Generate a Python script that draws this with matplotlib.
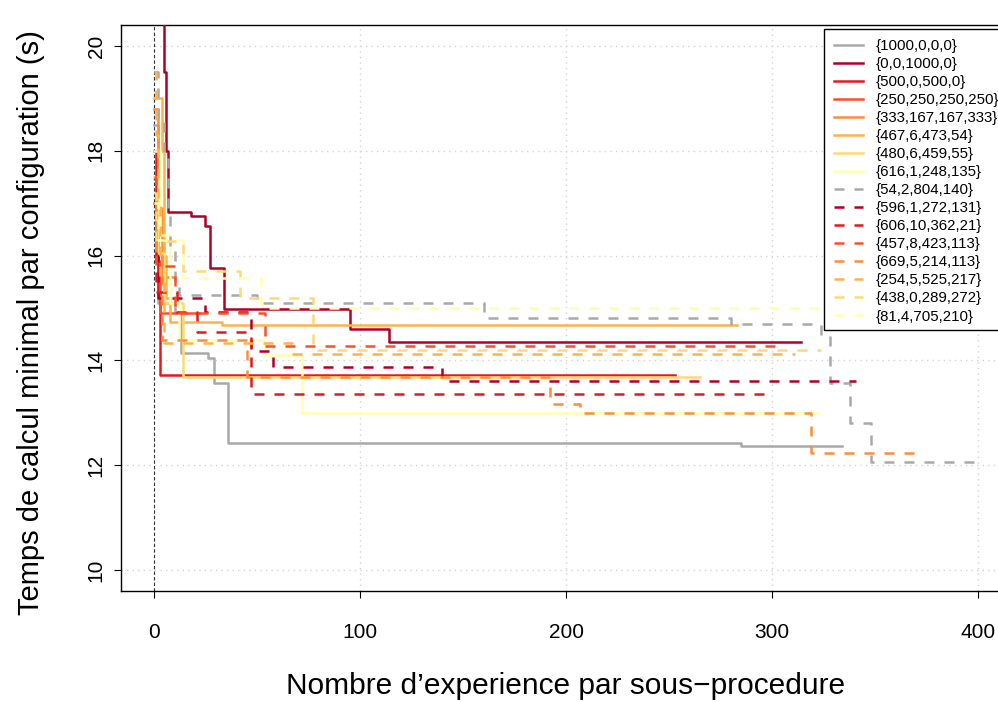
import numpy as np
import matplotlib
matplotlib.use("Agg")
import matplotlib.pyplot as plt
from matplotlib.patches import Rectangle

plt.rcParams['font.family'] = ['Liberation Sans', 'DejaVu Sans']

# series: step breakpoints (x = experiences, y = min time)
labels = ['{1000,0,0,0}', '{0,0,1000,0}', '{500,0,500,0}', '{250,250,250,250}',
          '{333,167,167,333}', '{467,6,473,54}', '{480,6,459,55}', '{616,1,248,135}',
          '{54,2,804,140}', '{596,1,272,131}', '{606,10,362,21}', '{457,8,423,113}',
          '{669,5,214,113}', '{254,5,525,217}', '{438,0,289,272}', '{81,4,705,210}']

x_s1 = [0, 2, 10, 13, 26, 29, 36, 285, 334]
y_s1 = [18.5, 15.1, 14.9, 14.14, 14.04, 13.57, 12.42, 12.37, 12.37]
x_s2 = [0, 4, 5, 6, 7, 18, 25, 27, 34, 95, 114, 314]
y_s2 = [30, 21, 19.5, 18, 16.84, 16.75, 16.56, 15.77, 14.98, 14.6, 14.36, 14.36]
x_s3 = [0, 1, 2, 3, 253]
y_s3 = [18.0, 16.5, 15.3, 13.72, 13.72]
x_s4 = [0, 1, 3, 22]
y_s4 = [17.0, 15.9, 14.9, 14.9]
x_s5 = [0, 2, 4, 9]
y_s5 = [18.8, 16.9, 15.6, 15.6]
x_s6 = [0, 4, 5, 6, 8, 33, 283]
y_s6 = [19.0, 18.0, 16.0, 15.2, 14.73, 14.67, 14.67]
x_s7 = [0, 2, 5, 14, 265]
y_s7 = [17.5, 16.05, 15.1, 13.68, 13.68]
x_s8 = [0, 3, 8, 12, 54, 72, 323]
y_s8 = [18.0, 16.4, 15.1, 14.39, 14.1, 13.0, 13.0]
x_d1 = [0, 2, 5, 7, 8, 10, 12, 50, 160, 280, 324, 328, 338, 348, 399]
y_d1 = [19.5, 18.6, 17.93, 16.82, 16.1, 15.54, 15.25, 15.1, 14.81, 14.7, 14.49, 13.57, 12.8, 12.06, 12.06]
x_d2 = [0, 2, 25, 47, 58, 140, 341]
y_d2 = [16.0, 15.2, 14.93, 14.18, 13.87, 13.6, 13.6]
x_d3 = [0, 1, 11, 21, 47, 298]
y_d3 = [16.8, 15.3, 14.92, 14.55, 13.35, 13.35]
x_d4 = [0, 1, 10, 54, 302]
y_d4 = [17.5, 15.8, 14.9, 14.27, 14.27]
x_d5 = [0, 1, 4, 45, 192, 207, 319, 373]
y_d5 = [17.0, 16.0, 14.38, 13.68, 13.17, 13.0, 12.23, 12.23]
x_d6 = [0, 1, 2, 3, 5, 67, 311]
y_d6 = [19.5, 18.3, 17.0, 15.6, 14.33, 14.12, 14.12]
x_d7 = [0, 1, 14, 42, 77, 324]
y_d7 = [17.2, 16.28, 15.7, 15.2, 14.2, 14.2]
x_d8 = [0, 2, 14, 52, 345]
y_d8 = [17.0, 16.3, 15.58, 15.0, 15.0]

xs = [x_s1, x_s2, x_s3, x_s4, x_s5, x_s6, x_s7, x_s8,
      x_d1, x_d2, x_d3, x_d4, x_d5, x_d6, x_d7, x_d8]
ys = [y_s1, y_s2, y_s3, y_s4, y_s5, y_s6, y_s7, y_s8,
      y_d1, y_d2, y_d3, y_d4, y_d5, y_d6, y_d7, y_d8]

# gris + brewer YlOrRd (7) inverse
couleurs = ['#A9A9A9', '#B10026', '#E31A1C', '#FC4E2A',
            '#FD8D3C', '#FEB24C', '#FED976', '#FFFFB2'] * 2

fig = plt.figure(figsize=(9.98, 7.02), dpi=100)
ax = fig.add_axes([121/998, 111/702, 890/998, 566/702])

# grille pointillee
for gx in [0, 100, 200, 300, 400]:
    ax.axvline(gx, color='#D3D3D3', linestyle=(0, (1, 3)), linewidth=1, zorder=0)
for gy in [10, 12, 14, 16, 18, 20]:
    ax.axhline(gy, color='#D3D3D3', linestyle=(0, (1, 3)), linewidth=1, zorder=0)
ax.axvline(0, color='#333333', linestyle=(0, (3, 2)), linewidth=0.8, zorder=1)

for i in range(16):
    ls = '-' if i < 8 else (0, (4, 4))
    ax.plot(xs[i], ys[i], drawstyle='steps-post', color=couleurs[i],
            linestyle=ls, linewidth=1.8, label=labels[i], zorder=2 + i)

ax.set_xlim(-16, 416)
ax.set_ylim(9.6, 20.4)
ax.set_xticks([0, 100, 200, 300, 400])
ax.set_yticks([10, 12, 14, 16, 18, 20])
ax.tick_params(axis='x', labelsize=15, length=5, pad=18)
ax.tick_params(axis='y', labelsize=15, length=5, pad=6)
for t in ax.get_yticklabels():
    t.set_rotation(90)
    t.set_va('center')
for s in ax.spines.values():
    s.set_linewidth(1)

ax.set_xlabel('Nombre d\u2019experience par sous\u2212procedure', fontsize=21.5, labelpad=22)
ax.set_ylabel('Temps de calcul minimal par configuration (s)', fontsize=21)
ax.yaxis.set_label_coords(-0.085, 0.475)

# cadre de la legende, ouvert a droite (il sort de l'image)
fx0, fx1 = 824/998, 1.03
fy0, fy1 = 1 - 330/702, 1 - 29/702
fond = Rectangle((fx0, fy0), fx1 - fx0, fy1 - fy0, transform=fig.transFigure,
                 facecolor='white', edgecolor='none', zorder=48)
ax.add_patch(fond)
ax.plot([fx1, fx0, fx0, fx1], [fy1, fy1, fy0, fy0], transform=fig.transFigure,
        color='black', linewidth=1, clip_on=False, zorder=49)
leg = ax.legend(loc='upper left', bbox_to_anchor=(fx0, fy1),
                bbox_transform=fig.transFigure, borderaxespad=0,
                fontsize=10.8, frameon=False, handlelength=1.95, handletextpad=0.85,
                borderpad=0.65, labelspacing=0.27)
leg.set_zorder(50)

fig.savefig('out.png', dpi=100)
